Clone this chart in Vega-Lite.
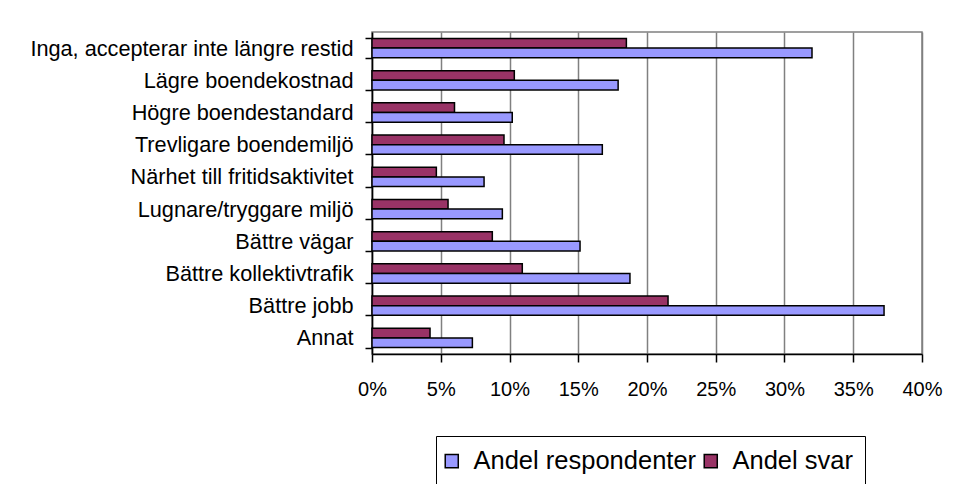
{
  "$schema": "https://vega.github.io/schema/vega-lite/v6.json",
  "width": 550,
  "height": 322,
  "autosize": {"type": "none"},
  "padding": {"left": 372, "top": 32, "right": 33, "bottom": 130},
  "background": "white",
  "config": {
    "font": "Liberation Sans",
    "view": {"stroke": "#808080", "strokeWidth": 1.5},
    "axis": {"labelColor": "black", "domainColor": "black", "tickColor": "black", "labelFont": "Liberation Sans"}
  },
  "data": {
    "values": [
      {"category": "Inga, accepterar inte längre restid", "series": "Andel svar", "value": 0.185},
      {"category": "Inga, accepterar inte längre restid", "series": "Andel respondenter", "value": 0.320},
      {"category": "Lägre boendekostnad", "series": "Andel svar", "value": 0.1035},
      {"category": "Lägre boendekostnad", "series": "Andel respondenter", "value": 0.179},
      {"category": "Högre boendestandard", "series": "Andel svar", "value": 0.060},
      {"category": "Högre boendestandard", "series": "Andel respondenter", "value": 0.102},
      {"category": "Trevligare boendemiljö", "series": "Andel svar", "value": 0.096},
      {"category": "Trevligare boendemiljö", "series": "Andel respondenter", "value": 0.1675},
      {"category": "Närhet till fritidsaktivitet", "series": "Andel svar", "value": 0.0468},
      {"category": "Närhet till fritidsaktivitet", "series": "Andel respondenter", "value": 0.0815},
      {"category": "Lugnare/tryggare miljö", "series": "Andel svar", "value": 0.0553},
      {"category": "Lugnare/tryggare miljö", "series": "Andel respondenter", "value": 0.0948},
      {"category": "Bättre vägar", "series": "Andel svar", "value": 0.0875},
      {"category": "Bättre vägar", "series": "Andel respondenter", "value": 0.1513},
      {"category": "Bättre kollektivtrafik", "series": "Andel svar", "value": 0.1093},
      {"category": "Bättre kollektivtrafik", "series": "Andel respondenter", "value": 0.1876},
      {"category": "Bättre jobb", "series": "Andel svar", "value": 0.2153},
      {"category": "Bättre jobb", "series": "Andel respondenter", "value": 0.3724},
      {"category": "Annat", "series": "Andel svar", "value": 0.0422},
      {"category": "Annat", "series": "Andel respondenter", "value": 0.073}
    ]
  },
  "mark": {"type": "bar", "stroke": "black", "strokeWidth": 1.5, "opacity": 1},
  "encoding": {
    "y": {
      "field": "category",
      "type": "nominal",
      "sort": null,
      "scale": {"paddingInner": 0.4, "paddingOuter": 0.2},
      "axis": {
        "title": null,
        "tickBand": "extent",
        "tickSize": 7,
        "labelPadding": 12,
        "labelFontSize": 21.7,
        "labelLimit": 400,
        "domainWidth": 1.5,
        "tickWidth": 1.5
      }
    },
    "yOffset": {
      "field": "series",
      "type": "nominal",
      "scale": {"domain": ["Andel svar", "Andel respondenter"]}
    },
    "x": {
      "field": "value",
      "type": "quantitative",
      "scale": {"domain": [0, 0.4], "nice": false},
      "axis": {
        "title": null,
        "format": ".0%",
        "values": [0, 0.05, 0.1, 0.15, 0.2, 0.25, 0.3, 0.35, 0.4],
        "tickSize": 8,
        "labelPadding": 17,
        "labelFontSize": 20,
        "labelFlush": false,
        "grid": true,
        "gridColor": "#808080",
        "gridWidth": 1.5,
        "gridOpacity": 1,
        "domainWidth": 1.5,
        "tickWidth": 1.5
      }
    },
    "color": {
      "field": "series",
      "type": "nominal",
      "scale": {"domain": ["Andel respondenter", "Andel svar"], "range": ["#9999FF", "#993366"]},
      "legend": {
        "title": null,
        "orient": "none",
        "direction": "horizontal",
        "legendX": 64,
        "legendY": 404,
        "strokeColor": "black",
        "fillColor": "white",
        "padding": 12,
        "symbolType": "square",
        "symbolSize": 170,
        "symbolOffset": -9,
        "symbolStrokeColor": "black",
        "symbolStrokeWidth": 1.5,
        "symbolOpacity": 1,
        "labelFontSize": 25.5,
        "labelColor": "black",
        "labelOffset": 9,
        "columnPadding": 4,
        "labelLimit": 400
      }
    }
  }
}
